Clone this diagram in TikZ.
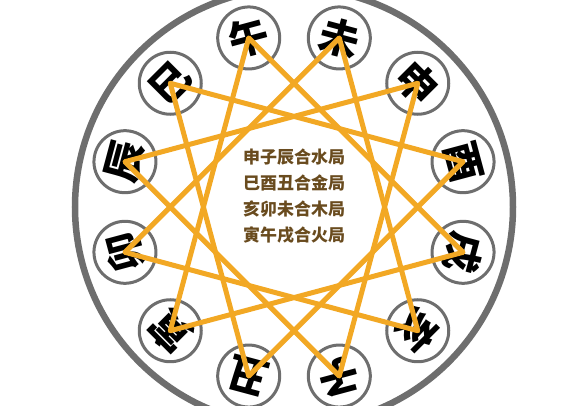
\documentclass[tikz,border=0pt]{standalone}
\usepackage{fontspec}
\newfontfamily\cjk{Noto Sans CJK SC}
\definecolor{ringgrey}{RGB}{110,110,110}
\definecolor{sanheorange}{RGB}{242,168,36}
\definecolor{hejubrown}{RGB}{105,75,30}
\tikzset{x=1pt, y=1pt}

\begin{document}
\begin{tikzpicture}[x=1pt,y=1pt,
  branch/.style={circle, draw=ringgrey, line width=3pt, fill=white,
    minimum size=62pt, inner sep=0pt, font=\cjk\bfseries\fontsize{40}{40}\selectfont},
  sanhe/.style={draw=sanheorange, line width=5pt, line join=round, line cap=round},
  heju/.style={align=center, text=hejubrown, font=\cjk\bfseries\fontsize{17}{26}\selectfont}]
\useasboundingbox (-294,-199) rectangle (270,207);
\clip (-294,-199) rectangle (270,207);
\draw[ringgrey, line width=6.5pt] (0,0) circle (219); % outer ring

% the twelve branches, top of each glyph facing outward
\foreach \b [count=\i from 0] in {午,未,申,酉,戌,亥,子,丑,寅,卯,辰,巳}
\node[branch, rotate=15-30*\i] (b\i) at ({105-30*\i}:175) {\b};

% four triangles of the san he
\foreach \i [evaluate=\i as \j using int(\i+4), evaluate=\i as \k using int(\i+8)] in {0,...,3}
\draw[sanhe] (b\i.center) -- (b\j.center) -- (b\k.center) -- cycle;

\node[heju] (heju) at (0,11) {申子辰合水局\\巳酉丑合金局\\亥卯未合木局\\寅午戌合火局};
\end{tikzpicture}
\end{document}
